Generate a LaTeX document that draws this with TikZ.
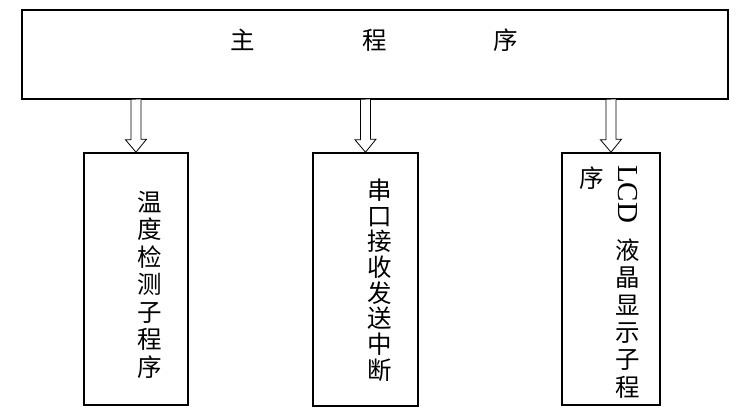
\documentclass[tikz,border=0pt]{standalone}
\usepackage{fontspec}
\setmainfont{Liberation Serif}
\newfontfamily\cjk{Noto Sans CJK SC}
\usetikzlibrary{calc}
\begin{document}
\begin{tikzpicture}[x=1pt,y=-1pt,
  box/.style={draw,line width=1.6pt,inner sep=0pt},
  blk/.style={draw,line width=0.8pt,fill=white,line join=miter},
  cjkcol/.style={font=\cjk\fontsize{24.5}{#1}\selectfont,align=center,inner sep=0pt},
  cjkcol/.default=27]
\useasboundingbox[fill=white] (0,0) rectangle (744,420);
\node[box,minimum width=706pt,minimum height=89pt] (main) at (375,54.5) {};
\node[box,minimum width=104pt,minimum height=252pt] (b1) at (136,279) {};
\node[box,minimum width=105pt,minimum height=253pt] (b2) at (365.5,279.5) {};
\node[box,minimum width=98pt,minimum height=252pt] (b3) at (611,279) {};
\node[cjkcol] (title) at (374,40) {主\hspace{108pt}程\hspace{106pt}序};
\node[cjkcol=27.5] (t1) at (150,284.5) {温\\度\\检\\测\\子\\程\\序};
\node[cjkcol=25.7] (t2) at (380,280) {串\\口\\接\\收\\发\\送\\中\\断};
\node[inner sep=0pt,rotate=-90,font=\fontsize{29}{29}\selectfont] (lcd) at (628,194) {LCD};
\node[cjkcol=27.4] (t3) at (628,318.5) {液\\晶\\显\\示\\子\\程};
\node[cjkcol] (t3b) at (592,178) {序};
\foreach \b in {b1,b2,b3}{
  \draw[blk] ($(main.south -| \b.north)+(-5,0)$) -- ++(0,40) -- ++(-5.5,0) -- (\b.north) -- ++(10.5,-13) -- ++(-5.5,0) -- ++(0,-40);
}
\end{tikzpicture}
\end{document}
